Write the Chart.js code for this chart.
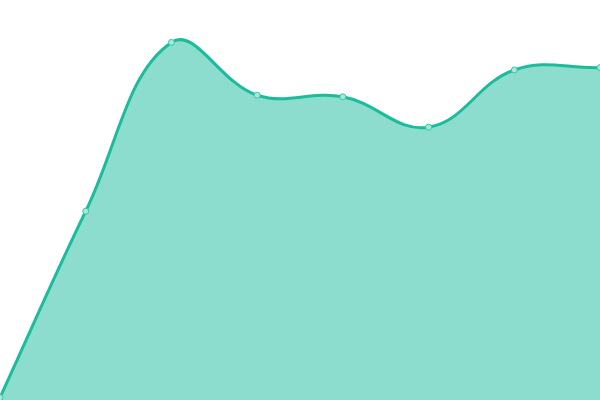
<!DOCTYPE html>
<html>
<head>
<meta charset="utf-8">
<script src="https://cdn.jsdelivr.net/npm/chart.js@4"></script>
<style>
html,body{margin:0;padding:0;background:#fff;}
#wrap{width:600px;height:400px;}
</style>
</head>
<body>
<div id="wrap"><canvas id="c" width="600" height="400"></canvas></div>
<script>
const labels = ["1", "2", "3", "4", "5", "6", "7", "8"];
const values = [0.6, 47.2, 89.4, 76.2, 75.8, 68.2, 82.5, 83.1];

new Chart(document.getElementById('c'), {
  type: 'line',
  data: {
    labels: labels,
    datasets: [{
      data: values,
      borderColor: '#1abc9c',
      backgroundColor: 'rgba(26,188,156,0.5)',
      borderWidth: 3,
      fill: 'start',
      tension: 0.4,
      pointRadius: 3,
      pointBackgroundColor: '#a3eadb',
      pointBorderColor: '#3cc4a6',
      pointBorderWidth: 1
    }]
  },
  options: {
    responsive: false,
    animation: false,
    layout: { padding: 0, autoPadding: false },
    plugins: { legend: { display: false }, tooltip: { enabled: false } },
    scales: {
      x: { display: false, offset: false },
      y: { display: false, min: 0, max: 100 }
    }
  }
});
</script>
</body>
</html>
